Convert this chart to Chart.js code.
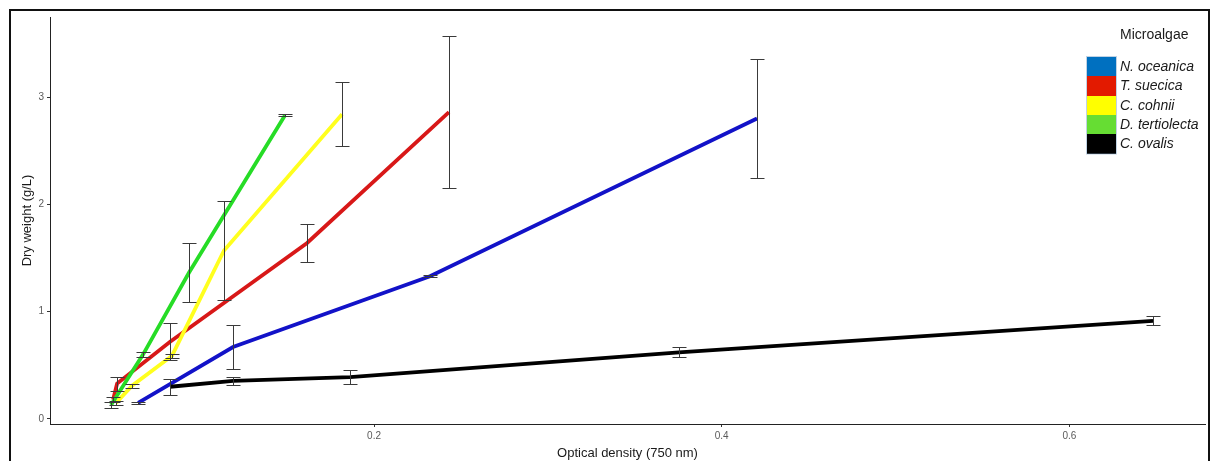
<!DOCTYPE html>
<html>
<head>
<meta charset="utf-8">
<script src="https://cdn.jsdelivr.net/npm/chart.js@4.4.1/dist/chart.umd.min.js"></script>
<style>
  html, body { margin: 0; padding: 0; background: #fff; width: 1210px; height: 461px; overflow: hidden; }
  #wrap { position: relative; width: 1210px; height: 461px; }
  #c { position: absolute; left: 0; top: 0; }
  #frame { position: absolute; left: 9px; top: 9px; width: 1197px; height: 480px;
           border: 2px solid #111; pointer-events: none; }
</style>
</head>
<body>
<div id="wrap">
  <canvas id="c" width="1210" height="461"></canvas>
  <div id="frame"></div>
</div>
<script>
// Growth curves: dry weight against optical density, mean ± SD per species.
const SPECIES = ['N. oceanica', 'T. suecica', 'C. cohnii', 'D. tertiolecta', 'C. ovalis'];

const OD_OCEANICA   = [0.0643, 0.1189, 0.2322, 0.4203];
const DW_OCEANICA   = [0.15, 0.67, 1.33, 2.80];
const SD_OCEANICA   = [0.01, 0.205, 0.01, 0.555];

const OD_SUECICA    = [0.0499, 0.0522, 0.0827, 0.1615, 0.2431];
const DW_SUECICA    = [0.18, 0.33, 0.72, 1.64, 2.86];
const SD_SUECICA    = [0.02, 0.065, 0.17, 0.18, 0.71];

const OD_COHNII     = [0.0516, 0.0608, 0.0838, 0.1137, 0.1816];
const DW_COHNII     = [0.15, 0.31, 0.59, 1.57, 2.84];
const SD_COHNII     = [0.02, 0.02, 0.02, 0.457, 0.30];

const OD_TERTIOLECTA = [0.0487, 0.0671, 0.0936, 0.1488];
const DW_TERTIOLECTA = [0.13, 0.60, 1.365, 2.83];
const SD_TERTIOLECTA = [0.03, 0.025, 0.275, 0.01];

const OD_OVALIS     = [0.0827, 0.1189, 0.1862, 0.3754, 0.6481];
const DW_OVALIS     = [0.30, 0.355, 0.39, 0.62, 0.915];
const SD_OVALIS     = [0.075, 0.04, 0.065, 0.047, 0.04];

const X_TICKS = [0.2, 0.4, 0.6];
const Y_TICKS = [0, 1, 2, 3];

const LINE_COLORS   = ['#1212C8', '#D81818', '#FFFF1E', '#26DC26', '#000000'];
const LEGEND_COLORS = ['#0070C0', '#E31A00', '#FFFF00', '#66DD33', '#000000'];

const FONT = '"Liberation Sans", Arial, sans-serif';

function series(i, xs, ys, sds) {
  return {
    label: SPECIES[i],
    data: xs.map((x, k) => ({ x: x, y: ys[k] })),
    errors: sds,
    borderColor: LINE_COLORS[i],
    backgroundColor: LINE_COLORS[i],
    legendColor: LEGEND_COLORS[i],
    borderWidth: 3.8,
    showLine: true,
    pointRadius: 0,
    tension: 0,
    order: 4 - i
  };
}

const datasets = [
  series(0, OD_OCEANICA, DW_OCEANICA, SD_OCEANICA),
  series(1, OD_SUECICA, DW_SUECICA, SD_SUECICA),
  series(2, OD_COHNII, DW_COHNII, SD_COHNII),
  series(3, OD_TERTIOLECTA, DW_TERTIOLECTA, SD_TERTIOLECTA),
  series(4, OD_OVALIS, DW_OVALIS, SD_OVALIS)
];

// Vertical error bars with small caps, placed through the chart's scales.
const errorBars = {
  id: 'errorBars',
  afterDatasetsDraw(chart) {
    const ctx = chart.ctx;
    const xs = chart.scales.x, ys = chart.scales.y;
    const cap = 7;
    ctx.save();
    ctx.strokeStyle = '#3a3a3a';
    ctx.lineWidth = 1;
    chart.data.datasets.forEach(ds => {
      ds.data.forEach((p, k) => {
        const e = ds.errors[k];
        const px = Math.round(xs.getPixelForValue(p.x)) + 0.5;
        const top = Math.round(ys.getPixelForValue(p.y + e)) + 0.5;
        const bot = Math.round(ys.getPixelForValue(p.y - e)) + 0.5;
        ctx.beginPath();
        ctx.moveTo(px, top); ctx.lineTo(px, bot);
        ctx.moveTo(px - cap, top); ctx.lineTo(px + cap, top);
        ctx.moveTo(px - cap, bot); ctx.lineTo(px + cap, bot);
        ctx.stroke();
      });
    });
    ctx.restore();
  }
};

// Legend with filled keys, drawn inside the panel at the top right.
const keyLegend = {
  id: 'keyLegend',
  afterDraw(chart) {
    const ctx = chart.ctx;
    const x0 = 1087, y0 = 57, w = 29, h = 19.3;
    ctx.save();
    ctx.fillStyle = '#1a1a1a';
    ctx.textBaseline = 'middle';
    ctx.textAlign = 'left';
    ctx.font = '14px ' + FONT;
    ctx.fillText('Microalgae', 1120, 35);
    chart.data.datasets.forEach((ds, i) => {
      const y = y0 + i * h;
      ctx.fillStyle = ds.legendColor;
      ctx.fillRect(x0, Math.round(y), w, Math.round(y + h) - Math.round(y));
      ctx.fillStyle = '#1a1a1a';
      ctx.font = 'italic 14px ' + FONT;
      ctx.fillText(ds.label, 1120, y + h / 2 + 0.5);
    });
    ctx.strokeStyle = 'rgba(150,180,210,0.6)';
    ctx.lineWidth = 1;
    ctx.strokeRect(x0 - 0.5, y0 - 0.5, w + 1, h * 5 + 1);
    ctx.restore();
  }
};

new Chart(document.getElementById('c'), {
  type: 'scatter',
  data: { datasets: datasets },
  options: {
    responsive: false,
    animation: false,
    devicePixelRatio: 1,
    layout: { padding: { left: 12, top: 17, right: 5, bottom: 0 } },
    plugins: { legend: { display: false }, tooltip: { enabled: false } },
    scales: {
      x: {
        type: 'linear',
        min: 0.0136,
        max: 0.678,
        afterBuildTicks: s => { s.ticks = X_TICKS.map(v => ({ value: v })); },
        afterFit: s => { s.height = 37; },
        grid: { drawOnChartArea: false, drawTicks: true, tickLength: 3, color: '#333' },
        border: { display: true, color: '#222', width: 1 },
        ticks: { font: { family: FONT, size: 10 }, color: '#5a5a5a', padding: 3, maxRotation: 0,
                 callback: v => String(v) },
        title: { display: true, text: 'Optical density (750 nm)', color: '#1a1a1a',
                 font: { family: FONT, size: 13 }, padding: { top: 0, bottom: 0 } }
      },
      y: {
        type: 'linear',
        min: -0.047,
        max: 3.746,
        afterBuildTicks: s => { s.ticks = Y_TICKS.map(v => ({ value: v })); },
        afterFit: s => { s.width = 38; },
        grid: { drawOnChartArea: false, drawTicks: true, tickLength: 3, color: '#333' },
        border: { display: true, color: '#222', width: 1 },
        ticks: { font: { family: FONT, size: 10 }, color: '#5a5a5a', padding: 3,
                 callback: v => String(v) },
        title: { display: true, text: 'Dry weight (g/L)', color: '#1a1a1a',
                 font: { family: FONT, size: 13 }, padding: { top: 8, bottom: 0 } }
      }
    }
  },
  plugins: [errorBars, keyLegend]
});
</script>
</body>
</html>
